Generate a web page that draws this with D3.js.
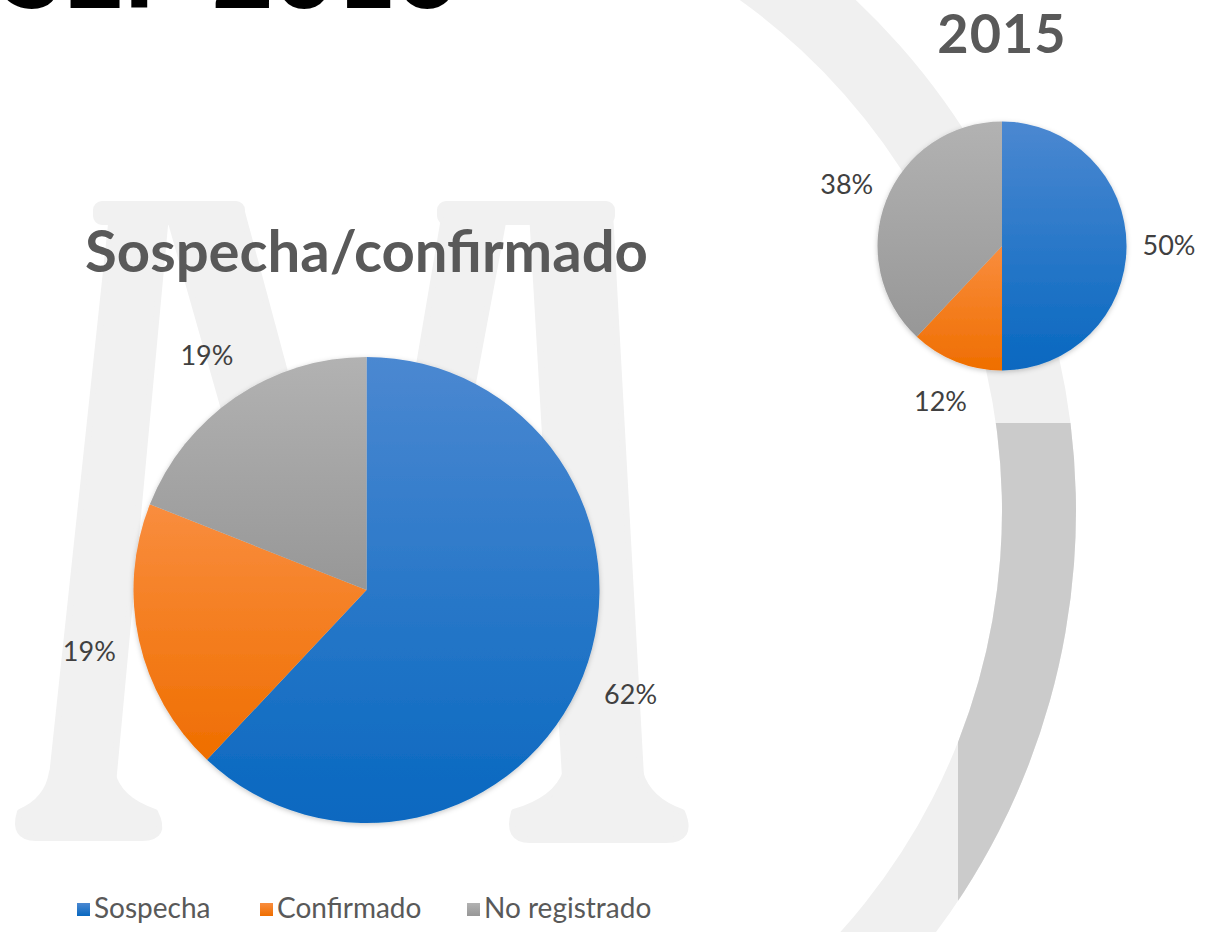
<!DOCTYPE html>
<html><head><meta charset="utf-8">
<script src="https://cdn.jsdelivr.net/npm/d3@7"></script>
<style>html,body{margin:0;padding:0;background:#fff;overflow:hidden}</style>
</head><body>
<svg id="c" width="1207" height="932"></svg>
<script>
// ---------- data ----------
const categories = ["Sospecha", "Confirmado", "No registrado"];
const values2016 = [62, 19, 19];
const values2015 = [50, 12, 38];
const mainTitle = "SEP 2016";
const title2016 = "Sospecha/confirmado";
const title2015 = "2015";

// ---------- styles / layout ----------
const W = 1207, H = 932;
const gradStops = {
  "Sospecha": ["#4b88d1", "#0868c0"],
  "Confirmado": ["#f98d3e", "#ef6e00"],
  "No registrado": ["#b2b2b2", "#979797"]
};
const svg = d3.select("#c");
const defs = svg.append("defs");
categories.forEach((c, i) => {
  const g = defs.append("linearGradient").attr("id", "g" + i)
    .attr("x1", 0).attr("y1", 0).attr("x2", 0).attr("y2", 1);
  g.append("stop").attr("offset", "0%").attr("stop-color", gradStops[c][0]);
  g.append("stop").attr("offset", "100%").attr("stop-color", gradStops[c][1]);
});
const f = defs.append("filter").attr("id", "sh").attr("x", "-10%").attr("y", "-10%").attr("width", "120%").attr("height", "120%");
f.append("feDropShadow").attr("dx", 0).attr("dy", 1.5).attr("stdDeviation", 2.5)
  .attr("flood-color", "#000").attr("flood-opacity", 0.22);

// ---------- background decorations ----------
const bg = svg.append("g");
// large arc band on the right
const ringC = [373, 511];
const ring = d3.arc().innerRadius(629).outerRadius(703).startAngle(-0.05).endAngle(Math.PI);
bg.append("path").attr("transform", `translate(${ringC})`).attr("d", ring()).attr("fill", "#f0f0f0");
defs.append("clipPath").attr("id", "darkclip").append("rect")
  .attr("x", 958).attr("y", 423).attr("width", 300).attr("height", 600);
bg.append("g").attr("clip-path", "url(#darkclip)")
  .append("path").attr("transform", `translate(${ringC})`).attr("d", ring())
  .attr("fill", "#cbcbcb");

// watermark "M"
const mg = bg.append("g").attr("fill", "#f1f1f1").attr("stroke", "#f1f1f1")
  .attr("stroke-linejoin", "round").attr("stroke-width", 6);
const polys = [
  [[112,215],[166,215],[112,795],[50,795]],           // left stem
  [[168,212],[242,212],[400,800],[335,800]],          // left diagonal
  [[445,212],[505,212],[395,800],[345,800]],          // right diagonal
  [[532,212],[610,212],[642,795],[566,795]]           // right stem
];
polys.forEach(p => mg.append("path").attr("d", d3.line()(p) + "Z"));
mg.append("rect").attr("x", 96).attr("y", 204).attr("width", 146).attr("height", 18).attr("rx", 6);
mg.append("rect").attr("x", 440).attr("y", 204).attr("width", 172).attr("height", 18).attr("rx", 6);
mg.append("path").attr("d", "M52,772 L112,772 Q118,800 155,812 Q168,838 142,838 L36,838 Q12,838 20,812 Q48,800 52,772 Z");
mg.append("path").attr("d", "M566,772 L640,772 Q648,800 682,812 Q694,840 666,840 L530,840 Q506,840 514,812 Q556,800 566,772 Z");

// top, cut-off title
svg.append("text").attr("x", 4).attr("y", 8)
  .attr("font-family", "Lato, sans-serif").attr("font-weight", 900).attr("font-size", 106)
  .attr("fill", "#000").text(mainTitle);

// ---------- pies ----------
function drawPie(values, cx, cy, r, labelR, fontSize) {
  const data = categories.map((c, i) => ({ c, i, v: values[i] }));
  const pie = d3.pie().sort(null).value(d => d.v);
  const arc = d3.arc().innerRadius(0).outerRadius(r);
  const lab = d3.arc().innerRadius(labelR).outerRadius(labelR);
  const g = svg.append("g").attr("transform", `translate(${cx},${cy})`);
  const arcs = pie(data);
  g.append("g").attr("filter", "url(#sh)").selectAll("path").data(arcs).join("path")
    .attr("d", arc).attr("fill", d => `url(#g${d.data.i})`);
  const total = d3.sum(values);
  g.selectAll("text").data(arcs).join("text")
    .attr("transform", d => `translate(${lab.centroid(d)})`)
    .attr("text-anchor", "middle").attr("dy", "0.35em")
    .attr("font-family", "Lato, sans-serif").attr("font-size", fontSize)
    .attr("fill", "#404040")
    .text(d => d3.format(".0%")(d.data.v / total));
}
drawPie(values2016, 366.5, 590, 233, 284, 27);
drawPie(values2015, 1002, 246, 124.5, 167, 27);

// ---------- titles ----------
function fitText(t, target) {
  const w = t.node().getComputedTextLength();
  const fs = parseFloat(t.attr("font-size"));
  t.attr("font-size", fs * target / w);
}
const t1 = svg.append("text").attr("x", 366.5).attr("y", 272).attr("text-anchor", "middle")
  .attr("font-family", "Lato, sans-serif").attr("font-weight", 700).attr("font-size", 54)
  .attr("fill", "#595959").text(title2016);
fitText(t1, 563);
svg.append("text").attr("x", 1002).attr("y", 53).attr("text-anchor", "middle")
  .attr("font-family", "Lato, sans-serif").attr("font-weight", 700).attr("font-size", 54)
  .attr("fill", "#595959").attr("letter-spacing", 1).text(title2015);

// ---------- legend ----------
const legendX = [77, 260, 467];
const lg = svg.append("g").attr("transform", "translate(0,918)");
const items = lg.selectAll("g").data(categories).join("g")
  .attr("transform", (d, i) => `translate(${legendX[i]},0)`);
items.append("rect").attr("x", 0).attr("y", -15).attr("width", 13).attr("height", 13)
  .attr("fill", (d, i) => `url(#g${i})`);
items.append("text").attr("x", 17).attr("y", 0)
  .attr("font-family", "Lato, sans-serif").attr("font-size", 28).attr("fill", "#595959")
  .text(d => d);
</script>
</body></html>
